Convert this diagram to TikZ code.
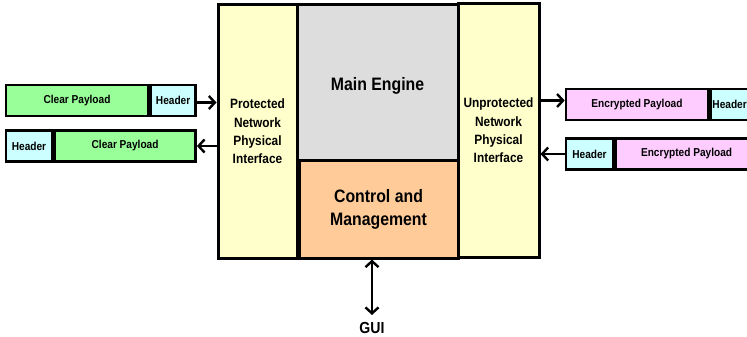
\documentclass[tikz,border=0pt]{standalone}
\usepackage{fontspec}
\setmainfont[FakeStretch=0.88]{Liberation Sans}
\usetikzlibrary{arrows.meta,calc}
\definecolor{ifyellow}{HTML}{FFFFCC}
\definecolor{enggrey}{HTML}{DDDDDD}
\definecolor{ctrlorange}{HTML}{FFCC99}
\definecolor{cleargreen}{HTML}{99FF99}
\definecolor{hdrcyan}{HTML}{CCFFFF}
\definecolor{encpink}{HTML}{FFCCFF}
\tikzset{
  bigbox/.style={draw=black, line width=3pt, rectangle, inner sep=0pt, align=center,
    font=\bfseries\fontsize{13.5}{18.3}\selectfont},
  corebox/.style={bigbox, font=\bfseries\fontsize{18}{23}\selectfont},
  pktbox/.style={draw=black, line width=2.6pt, rectangle, inner sep=0pt,
    minimum height=31pt, font=\bfseries\fontsize{11.5}{13}\selectfont},
  barb/.tip={Straight Barb[length=6pt,width=13pt,line width=2.4pt]},
  flow/.style={line width=2.8pt, -barb},
  bothflow/.style={line width=2.8pt, barb-barb}
}
\begin{document}
\begin{tikzpicture}[x=1pt,y=-1pt]
\useasboundingbox (0,0) rectangle (747,337);
\clip (0,0) rectangle (747,337);

% central block
\node[corebox, fill=enggrey, minimum width=161pt, minimum height=155pt,
      text height=21pt, text depth=4pt] (engine) at (377.5,82.5) {Main Engine};
\node[corebox, fill=ctrlorange, minimum width=159pt, minimum height=98pt] (ctrl) at (378.5,209) {Control and\\Management};
\node[bigbox, fill=ifyellow, minimum width=79pt, minimum height=253pt] (prot) at (257.5,131.5) {Protected\\Network\\Physical\\Interface};
\node[bigbox, fill=ifyellow, minimum width=81pt, minimum height=253pt] (unprot) at (498.5,130.5) {Unprotected\\Network\\Physical\\Interface};

% clear-side packets
\node[pktbox, fill=cleargreen, minimum width=142pt] (cpay1) at (77,100.5) {Clear Payload};
\node[pktbox, fill=hdrcyan, minimum width=45pt, anchor=west] (chdr1) at (cpay1.east) {Header};
\node[pktbox, fill=hdrcyan, minimum width=46pt] (chdr2) at (29,146) {Header};
\node[pktbox, fill=cleargreen, minimum width=141pt, anchor=west] (cpay2) at (chdr2.east) {Clear Payload};

% encrypted-side packets
\node[pktbox, fill=encpink, minimum width=142pt] (epay1) at (637,104.5) {Encrypted Payload};
\node[pktbox, fill=hdrcyan, minimum width=45pt, anchor=west] (ehdr1) at (epay1.east) {\hspace*{-7pt}Header};
\node[pktbox, fill=hdrcyan, minimum width=47pt] (ehdr2) at (589.5,154) {Header};
\node[pktbox, fill=encpink, minimum width=142pt, anchor=west] (epay2) at (ehdr2.east) {Encrypted Payload};

% packet flows
\draw[flow] ($(chdr1.east)+(0,2)$) -- ($(chdr1.east -| prot.west)+(0,2)$);
\draw[flow] (chdr2.east -| prot.west) -- (cpay2.east);
\draw[flow] ($(unprot.east |- epay1.west)+(0,-4)$) -- ($(epay1.west)+(0,-4)$);
\draw[flow] (ehdr2.west) -- (ehdr2.west -| unprot.east);

% management interface
\node[font=\bfseries\fontsize{16}{18}\selectfont] (gui) at (372,328) {GUI};
\coordinate (guitop) at (372,315);
\draw[bothflow] (guitop) -- (guitop |- ctrl.south);
\end{tikzpicture}
\end{document}
